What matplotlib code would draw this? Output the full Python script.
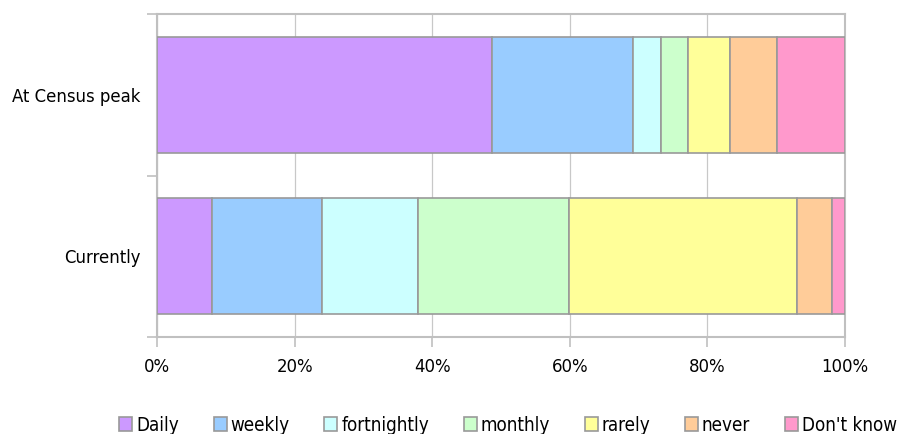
import numpy as np
import matplotlib
matplotlib.use("Agg")
from matplotlib import pyplot as plt

plt.rcParams['font.family'] = ['DejaVu Sans']
plt.rcParams['font.stretch'] = 'condensed'

periods = ["Currently", "At Census peak"]
categories = ["Daily", "weekly", "fortnightly", "monthly", "rarely", "never", "Don't know"]
colors = ["#cc99ff", "#99ccff", "#ccffff", "#ccffcc", "#ffff99", "#ffcc99", "#ff99cc"]

# percentages per period (Currently, At Census peak)
shares = {
    "Daily":       [8.0, 48.7],
    "weekly":      [16.0, 20.5],
    "fortnightly": [13.9, 4.1],
    "monthly":     [22.0, 3.9],
    "rarely":      [33.1, 6.1],
    "never":       [5.1, 6.8],
    "Don't know":  [1.9, 9.9],
}

fig = plt.figure(figsize=(9.07, 4.34), dpi=100)
ax = fig.add_axes([157/907, 1 - 337/434, (845 - 157)/907, (337 - 14)/434])

y = np.arange(len(periods))
left = np.zeros(len(periods))
for cat, col in zip(categories, colors):
    vals = np.array(shares[cat])
    ax.barh(y, vals, left=left, height=0.72, color=col, edgecolor="#999999",
            linewidth=1.2, label=cat, zorder=3)
    left += vals

ax.set_xlim(0, 100)
ax.set_ylim(-0.5, 1.5)
ax.set_xticks(np.arange(0, 101, 20))
ax.set_xticklabels(["{}%".format(v) for v in range(0, 101, 20)])
ax.set_yticks(y)
ax.set_yticklabels(periods)
ax.set_yticks([-0.5, 0.5, 1.5], minor=True)
ax.tick_params(axis='y', which='major', length=0, pad=12, labelsize=13.2)
ax.tick_params(axis='y', which='minor', length=7, color="#c0c0c0", width=1.2)
ax.tick_params(axis='x', length=7, color="#c0c0c0", width=1.2, pad=8, labelsize=13.2)
ax.grid(axis='x', color="#c8c8c8", linewidth=0.9, zorder=0)
for s in ax.spines.values():
    s.set_color("#c0c0c0")
    s.set_linewidth(1.5)

fig.legend(loc="center", bbox_to_anchor=(0.560, 0.02), ncol=7, frameon=False,
           fontsize=13.5, handlelength=0.7, handleheight=0.75, handletextpad=0.2,
           columnspacing=1.85, borderaxespad=0)

plt.savefig("out.png", format="png")
